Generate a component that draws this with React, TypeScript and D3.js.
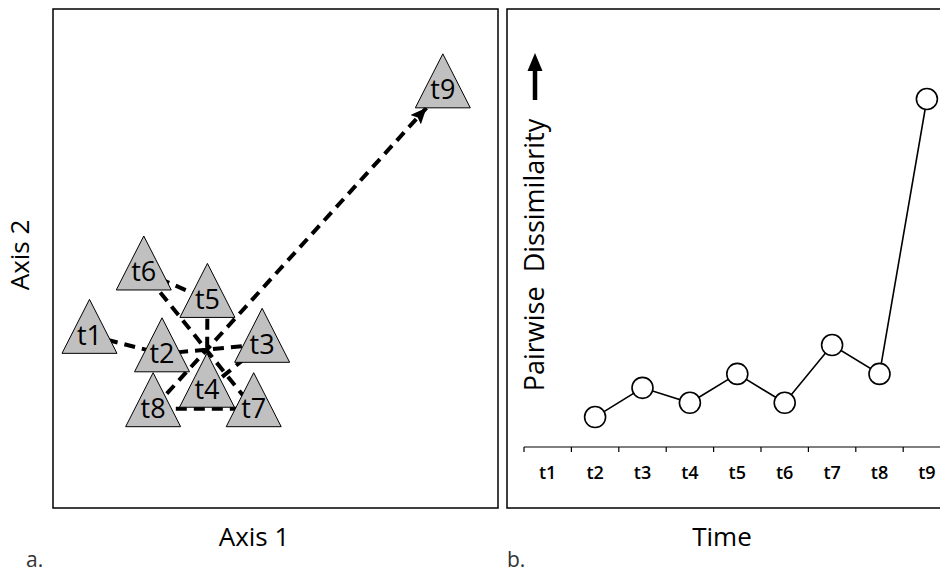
import React from "react";
import * as d3 from "d3";

const categories = ["t1", "t2", "t3", "t4", "t5", "t6", "t7", "t8", "t9"];
// Panel a: ordination scores (arbitrary units 0-100)
const axis1Scores = [8.2, 24.5, 47.0, 34.6, 34.7, 20.4, 45.1, 22.5, 87.6];
const axis2Scores = [34.6, 30.9, 32.8, 23.8, 41.8, 47.3, 19.9, 19.9, 83.8];
// Panel b: pairwise dissimilarity between consecutive times (t1 has none)
const dissimilarity: (number | null)[] = [null, 0.086, 0.17, 0.127, 0.21, 0.127, 0.293, 0.21, 1.0];

const FONT = "'Open Sans', 'Noto Sans', sans-serif";

export default function App() {
  const W = 940;
  const H = 575;

  // ---- Panel a ----
  const aLeft = 53, aRight = 498, top = 9, bottom = 508;
  const xA = d3.scaleLinear().domain([0, 100]).range([aLeft, aRight]);
  const yA = d3.scaleLinear().domain([0, 100]).range([bottom, top]);
  const pts = categories.map((c, i) => ({ c, x: xA(axis1Scores[i]), y: yA(axis2Scores[i]) }));
  const triUp = 36, triDown = 18, triHalf = 27.5;
  const triPath = (x: number, y: number) =>
    `M${x},${y - triUp}L${x + triHalf},${y + triDown}L${x - triHalf},${y + triDown}Z`;

  // trajectory, final point cut at base of last triangle
  const p8 = pts[7], p9 = pts[8];
  const baseY = p9.y + triDown;
  const f = (baseY - p8.y) / (p9.y - p8.y);
  const endPt = { x: p8.x + f * (p9.x - p8.x), y: baseY };
  const trajPts = [...pts.slice(0, 8).map((p) => [p.x, p.y] as [number, number]), [endPt.x, endPt.y] as [number, number]];
  const trajectory = d3.line()(trajPts) || "";

  // ---- Panel b ----
  const bLeft = 507;
  const xB = d3.scaleBand<string>().domain(categories).range([524, 950.6]).padding(0);
  const yB = d3.scaleLinear().domain([0, 1]).range([447, 99]);
  const axisY = yB(0);
  const linePts = categories
    .map((c, i) => ({ c, v: dissimilarity[i] }))
    .filter((d) => d.v !== null) as { c: string; v: number }[];
  const linePath =
    d3
      .line<{ c: string; v: number }>()
      .x((d) => (xB(d.c) as number) + xB.bandwidth() / 2)
      .y((d) => yB(d.v))(linePts) || "";

  return (
    <svg
      width={W}
      height={H}
      style={{ position: "absolute", left: 0, top: 0, background: "#fff" }}
      fontFamily={FONT}
    >
      <defs>
        <marker
          id="arrowHead"
          markerUnits="userSpaceOnUse"
          markerWidth={18}
          markerHeight={14}
          refX={16}
          refY={7}
          orient="auto"
        >
          <path d="M0,0L16,7L0,14L3,7Z" fill="#000" />
        </marker>
      </defs>

      {/* Panel a frame */}
      <rect x={aLeft} y={top} width={aRight - aLeft} height={bottom - top} fill="none" stroke="#000" strokeWidth={1.5} />
      <path
        d={trajectory}
        fill="none"
        stroke="#000"
        strokeWidth={4}
        strokeDasharray="11 7"
        markerEnd="url(#arrowHead)"
      />
      {pts.map((p) => (
        <g key={p.c}>
          <path d={triPath(p.x, p.y)} fill="#c0c0c0" stroke="#000" strokeWidth={1} />
          <text x={p.x} y={p.y + 9.5} textAnchor="middle" fontSize={27} fill="#000">
            {p.c}
          </text>
        </g>
      ))}
      <text x={254} y={546} textAnchor="middle" fontSize={26} fill="#000">
        Axis 1
      </text>
      <text transform={`translate(29,255) rotate(-90)`} textAnchor="middle" fontSize={26} fill="#000">
        Axis 2
      </text>
      <text x={26} y={567} fontSize={21} fill="#333">
        a.
      </text>

      {/* Panel b frame */}
      <rect x={bLeft} y={top} width={480} height={bottom - top} fill="none" stroke="#000" strokeWidth={1.5} />
      <line x1={524} x2={960} y1={axisY} y2={axisY} stroke="#000" strokeWidth={1.2} />
      {categories.map((c) => (
        <g key={c}>
          <line
            x1={xB(c) as number}
            x2={xB(c) as number}
            y1={axisY}
            y2={axisY + 5}
            stroke="#000"
            strokeWidth={1.2}
          />
          <text
            x={(xB(c) as number) + xB.bandwidth() / 2}
            y={479}
            textAnchor="middle"
            fontSize={18}
            fontWeight={600}
            fill="#000"
          >
            {c}
          </text>
        </g>
      ))}
      <path d={linePath} fill="none" stroke="#000" strokeWidth={1.6} />
      {linePts.map((d) => (
        <circle
          key={d.c}
          cx={(xB(d.c) as number) + xB.bandwidth() / 2}
          cy={yB(d.v)}
          r={10.5}
          fill="#fff"
          stroke="#000"
          strokeWidth={1.6}
        />
      ))}
      {/* up arrow */}
      <line x1={535} x2={535} y1={100} y2={66} stroke="#000" strokeWidth={4.5} />
      <path d="M527.5,71L542.5,71L535,53Z" fill="#000" />
      <text
        transform={`translate(544,255) rotate(-90)`}
        textAnchor="middle"
        fontSize={27}
        fill="#000"
        style={{ whiteSpace: "pre" }}
      >
        {"Pairwise  Dissimilarity"}
      </text>
      <text x={722} y={546} textAnchor="middle" fontSize={26} fill="#000">
        Time
      </text>
      <text x={507} y={567} fontSize={21} fill="#333">
        b.
      </text>
    </svg>
  );
}
